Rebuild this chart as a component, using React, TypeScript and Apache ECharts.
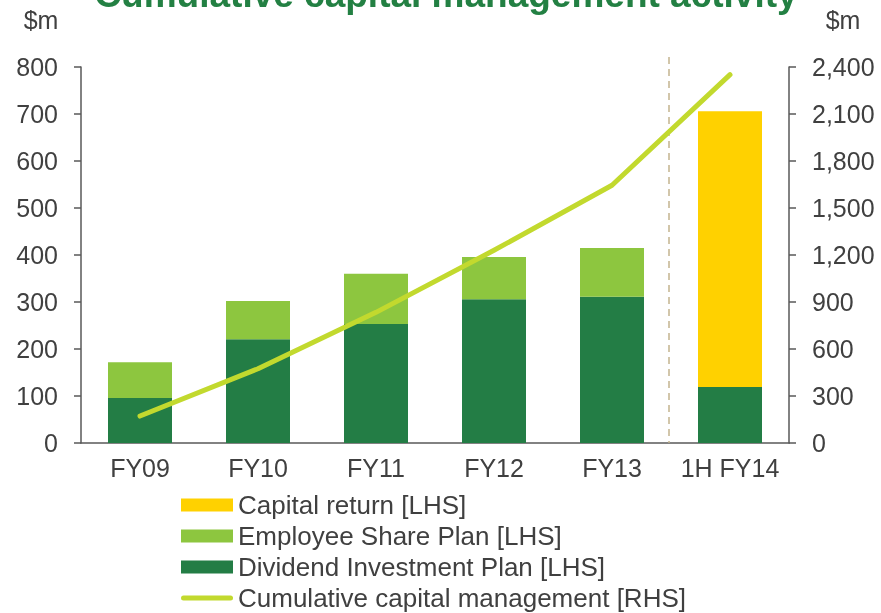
import React, { useEffect, useRef } from "react";
import * as echarts from "echarts";

const categories = ["FY09", "FY10", "FY11", "FY12", "FY13", "1H FY14"];
const dividendInvestmentPlan = [96, 221, 253, 306, 311, 119];
const employeeSharePlan = [76, 81, 107, 90, 104, 0];
const capitalReturn = [0, 0, 0, 0, 0, 587];
const cumulative = [172, 474, 834, 1230, 1645, 2351];
const leftTicks = { min: 0, max: 800, interval: 100 };
const rightTicks = { min: 0, max: 2400, interval: 300 };

const FONT = "'Liberation Sans', Arial, sans-serif";
const TEXT = "#404040";
const AXIS = "#595959";
const LINE = "#C2D92E";

export default function App() {
  const ref = useRef<HTMLDivElement>(null);
  useEffect(() => {
    if (!ref.current) return;
    const chart = echarts.init(ref.current, null, { renderer: "svg" });
    const axisLabel = { color: TEXT, fontSize: 25, fontFamily: FONT };
    const option: any = {
      animation: false,
      textStyle: { fontFamily: FONT },
      grid: { left: 81, right: 92, top: 67, bottom: 170, containLabel: false },
      legend: {
        orient: "vertical",
        left: 181,
        top: 492,
        height: 140,
        padding: 0,
        itemWidth: 52,
        itemHeight: 13,
        itemGap: 5,
        textStyle: { color: TEXT, fontSize: 26, fontFamily: FONT, lineHeight: 24 },
        data: [
          { name: "Capital return [LHS]", icon: "rect" },
          { name: "Employee Share Plan [LHS]", icon: "rect" },
          { name: "Dividend Investment Plan [LHS]", icon: "rect" },
          {
            name: "Cumulative capital management [RHS]",
            icon: "path://M2.5,0H49.5A2.5,2.5,0,0,1,49.5,5H2.5A2.5,2.5,0,0,1,2.5,0Z",
            itemStyle: { color: LINE },
          },
        ],
      },
      xAxis: {
        type: "category",
        data: categories,
        axisTick: { show: false },
        axisLine: { lineStyle: { color: AXIS, width: 1.5 } },
        axisLabel: { ...axisLabel, margin: 12, interval: 0 },
      },
      yAxis: [
        {
          type: "value",
          ...leftTicks,
          splitLine: { show: false },
          axisLine: { show: true, lineStyle: { color: AXIS, width: 1.5 } },
          axisTick: { show: true, length: 7, lineStyle: { color: AXIS, width: 1.5 } },
          axisLabel: { ...axisLabel, margin: 23 },
        },
        {
          type: "value",
          ...rightTicks,
          splitLine: { show: false },
          axisLine: { show: true, lineStyle: { color: AXIS, width: 1.5 } },
          axisTick: { show: true, length: 7, lineStyle: { color: AXIS, width: 1.5 } },
          axisLabel: {
            ...axisLabel,
            margin: 23,
            formatter: (v: number) => v.toLocaleString("en-US"),
          },
        },
      ],
      series: [
        {
          name: "Dividend Investment Plan [LHS]",
          type: "bar",
          stack: "a",
          barWidth: 64,
          data: dividendInvestmentPlan,
          itemStyle: { color: "#237D45" },
        },
        {
          name: "Employee Share Plan [LHS]",
          type: "bar",
          stack: "a",
          barWidth: 64,
          data: employeeSharePlan,
          itemStyle: { color: "#8DC63F" },
        },
        {
          name: "Capital return [LHS]",
          type: "bar",
          stack: "a",
          barWidth: 64,
          data: capitalReturn,
          itemStyle: { color: "#FFD100" },
        },
        {
          name: "Cumulative capital management [RHS]",
          type: "line",
          yAxisIndex: 1,
          data: cumulative,
          symbol: "none",
          z: 5,
          itemStyle: { color: LINE },
          lineStyle: { color: LINE, width: 5, cap: "round", join: "round" },
        },
      ],
    };
    chart.setOption(option);

    const x1 = chart.convertToPixel({ xAxisIndex: 0 }, categories[4]) as number;
    const x2 = chart.convertToPixel({ xAxisIndex: 0 }, categories[5]) as number;
    const xd = (x1 + x2) / 2 - 2;
    const y0 = chart.convertToPixel({ yAxisIndex: 0 }, 0) as number;

    chart.setOption({
      graphic: [
        {
          type: "text",
          x: 446,
          y: -6,
          style: {
            text: "Cumulative capital management activity",
            fill: "#238043",
            font: `bold 37px ${FONT}`,
            textAlign: "center",
            textVerticalAlign: "middle",
          },
        },
        {
          type: "text",
          x: 41,
          y: 20,
          style: { text: "$m", fill: TEXT, font: `25px ${FONT}`, textAlign: "center", textVerticalAlign: "middle" },
        },
        {
          type: "text",
          x: 843,
          y: 20,
          style: { text: "$m", fill: TEXT, font: `25px ${FONT}`, textAlign: "center", textVerticalAlign: "middle" },
        },
        {
          type: "line",
          z: 1,
          shape: { x1: xd, y1: 57, x2: xd, y2: y0 },
          style: { stroke: "#C4B48E", lineWidth: 1.5, lineDash: [7, 5] },
        },
      ],
    });

    return () => chart.dispose();
  }, []);
  return (
    <div
      ref={ref}
      style={{ position: "fixed", left: 0, top: 0, width: 881, height: 613 }}
    />
  );
}
